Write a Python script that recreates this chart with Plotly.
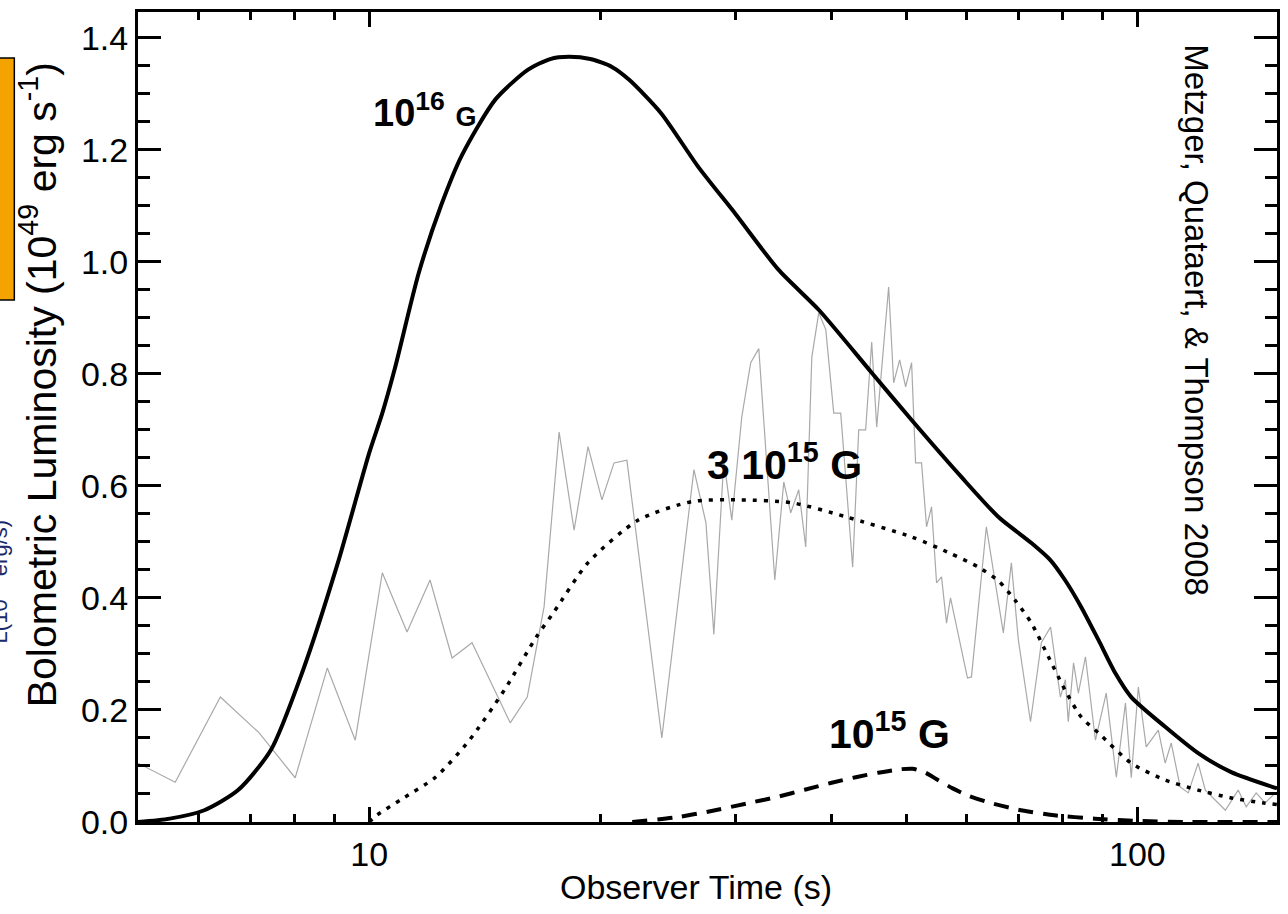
import numpy as np
import plotly.graph_objects as go

# Model light curves: bolometric luminosity (1e49 erg/s) vs observer time (s)
t_b16 = [5.0, 5.5, 6.1, 6.75, 7.45, 8.2, 9.1, 10.0, 10.4, 10.8, 11.6, 12.4, 13.2, 14.6, 16.1, 17.2,
         18.2, 19.4, 20.7, 21.8, 24.0, 26.8, 30.0, 34.1, 38.5, 45.1, 50.8, 59.0, 65.9, 72.8, 77.0,
         80.5, 84.5, 89.0, 93.6, 98.2, 108.7, 120.0, 132.5, 152.0]
L_b16 = [0.0, 0.006, 0.021, 0.057, 0.129, 0.271, 0.462, 0.659, 0.73, 0.81, 0.98, 1.10, 1.19, 1.29,
         1.343, 1.362, 1.366, 1.362, 1.348, 1.325, 1.265, 1.17, 1.085, 0.986, 0.914, 0.802, 0.718,
         0.616, 0.545, 0.498, 0.468, 0.432, 0.384, 0.325, 0.266, 0.223, 0.170, 0.123, 0.089, 0.060]

t_b3e15 = [10.0, 10.24, 11.0, 12.2, 13.5, 15.0, 16.5, 17.4, 19.3, 22.4, 26.3, 30.3, 35.5, 41.7, 50.8,
           57.0, 62.1, 66.0, 69.3, 72.8, 76.6, 80.5, 84.5, 89.0, 98.2, 108.7, 120.0, 132.5, 146.0, 152.0]
L_b3e15 = [0.0, 0.0125, 0.04, 0.080, 0.146, 0.236, 0.330, 0.375, 0.464, 0.539, 0.572, 0.575, 0.570,
           0.545, 0.509, 0.48, 0.455, 0.43, 0.396, 0.355, 0.295, 0.236, 0.1875, 0.159, 0.105, 0.075,
           0.057, 0.043, 0.034, 0.031]

t_b15 = [22.0, 25.0, 28.0, 31.0, 34.0, 37.0, 40.0, 43.0, 46.0, 49.0, 51.0, 53.0, 55.0, 57.5, 60.0,
         64.0, 70.0, 78.0, 88.0, 100.0, 115.0, 152.0]
L_b15 = [0.0, 0.008, 0.02, 0.033, 0.045, 0.058, 0.07, 0.08, 0.088, 0.094, 0.095, 0.088, 0.075, 0.06,
         0.048, 0.035, 0.022, 0.012, 0.006, 0.002, 0.0, 0.0]

# Observed burst light curve (gray)
t_obs = [5.0, 5.59, 6.40, 7.19, 8.01, 8.82, 9.59, 10.40, 11.20, 12.00, 12.82, 13.61, 15.26, 16.06,
         16.89, 17.67, 18.48, 19.27, 20.09, 20.83, 21.65, 24.04, 26.47, 27.44, 28.10, 28.95, 29.65,
         30.55, 31.38, 32.15, 33.73, 34.65, 35.38, 36.24, 37.01, 37.69, 38.48, 39.30, 40.25, 41.10,
         42.60, 43.38, 44.29, 45.10, 45.78, 47.45, 48.17, 49.04, 49.93, 50.83, 51.44, 52.37, 53.16,
         53.96, 54.78, 55.60, 56.44, 57.12, 60.10, 60.82, 63.60, 66.92, 68.55, 70.0, 72.6, 75.0,
         77.1, 79.4, 80.6, 81.3, 82.6, 83.8, 85.6, 88.2, 91.1, 93.9, 96.5, 98.2, 100.3, 102.7, 106.5,
         108.7, 110.7, 113.7, 116.5, 120.0, 122.6, 126.3, 130.2, 135.3, 138.6, 142.8, 146.7, 151.2]
L_obs = [0.105, 0.071, 0.223, 0.159, 0.079, 0.275, 0.146, 0.445, 0.339, 0.432, 0.293, 0.320, 0.177,
         0.223, 0.384, 0.696, 0.521, 0.670, 0.575, 0.641, 0.646, 0.150, 0.629, 0.534, 0.335, 0.646,
         0.539, 0.723, 0.820, 0.845, 0.432, 0.607, 0.552, 0.593, 0.491, 0.830, 0.909, 0.879, 0.730,
         0.730, 0.455, 0.700, 0.700, 0.857, 0.705, 0.955, 0.784, 0.825, 0.777, 0.820, 0.641, 0.641,
         0.527, 0.5625, 0.427, 0.4375, 0.355, 0.400, 0.257, 0.259, 0.527, 0.3375, 0.4625, 0.325,
         0.179, 0.320, 0.348, 0.223, 0.254, 0.179, 0.284, 0.230, 0.295, 0.146, 0.230, 0.080, 0.2125,
         0.079, 0.241, 0.134, 0.164, 0.105, 0.141, 0.0625, 0.052, 0.105, 0.057, 0.039, 0.021, 0.057,
         0.027, 0.052, 0.034, 0.052]

x_major = [10, 100]
x_minor = [6, 7, 8, 9, 20, 30, 40, 50, 60, 70, 80, 90]

FONT = "Liberation Sans, Arial, Helvetica, sans-serif"

fig = go.Figure()
fig.add_trace(go.Scatter(x=t_obs, y=L_obs, mode="lines",
                         line=dict(color="#a9a9a9", width=1.2), hoverinfo="skip"))
fig.add_trace(go.Scatter(x=t_b16, y=L_b16, mode="lines",
                         line=dict(color="black", width=4, shape="spline", smoothing=0.7),
                         hoverinfo="skip"))
fig.add_trace(go.Scatter(x=t_b3e15, y=L_b3e15, mode="lines",
                         line=dict(color="black", width=3.5, dash="4px,7px", shape="spline",
                                   smoothing=0.7), hoverinfo="skip"))
fig.add_trace(go.Scatter(x=t_b15, y=L_b15, mode="lines",
                         line=dict(color="black", width=4, dash="15px,10px", shape="spline",
                                   smoothing=0.6), hoverinfo="skip"))

axis_common = dict(showline=True, linecolor="black", linewidth=3, mirror="ticks",
                   ticks="inside", tickcolor="black", tickwidth=3, showgrid=False,
                   zeroline=False, tickfont=dict(family=FONT, size=34, color="black"))

fig.update_xaxes(type="log", range=[np.log10(5.0), np.log10(152.0)],
                 tickmode="array", tickvals=x_major, ticktext=[str(v) for v in x_major],
                 ticklen=15,
                 minor=dict(tickmode="array", tickvals=x_minor, ticks="inside", ticklen=8,
                            tickwidth=3, tickcolor="black"),
                 **axis_common)
fig.update_yaxes(range=[0, 1.446], tick0=0, dtick=0.2, tickformat=".1f", ticklen=23,
                 minor=dict(dtick=0.05, ticks="inside", ticklen=12, tickwidth=3, tickcolor="black"),
                 **axis_common)

annotations = [
    dict(x=np.log10(11.8), y=1.271, xref="x", yref="y", showarrow=False,
         text="<b>10<sup>16</sup> <span style='font-size:27px'>G</span></b>",
         font=dict(family=FONT, size=38, color="black")),
    dict(x=1.540, y=0.643, xref="x", yref="y", showarrow=False,
         text="<b>3 10<sup>15</sup> G</b>",
         font=dict(family=FONT, size=41, color="black")),
    dict(x=1.6775, y=0.1625, xref="x", yref="y", showarrow=False,
         text="<b>10<sup>15</sup> G</b>",
         font=dict(family=FONT, size=41, color="black")),
    dict(x=(1219 - 138) / 1142, y=(822 - 320) / 810, xref="paper", yref="paper",
         showarrow=False, textangle=90,
         text="Metzger, Quataert, & Thompson 2008",
         font=dict(family=FONT, size=33, color="black")),
    # axis titles
    dict(x=(697 - 138) / 1142, y=(822 - 887) / 810, xref="paper", yref="paper",
         xanchor="center", yanchor="middle",
         showarrow=False, text="Observer Time (s)",
         font=dict(family=FONT, size=34, color="black")),
    dict(x=(10 - 138) / 1142, y=(822 - 385) / 810, xref="paper", yref="paper",
         showarrow=False, textangle=-90,
         text="Bolometric Luminosity (10<sup>49</sup> erg s<sup>-1</sup>)",
         font=dict(family=FONT, size=41, color="black")),
    dict(x=(-19 - 138) / 1142, y=(822 - 645) / 810, xref="paper", yref="paper",
         showarrow=False, textangle=-90,
         text="L(10<sup>49</sup> erg/s)",
         font=dict(family=FONT, size=22, color="#1a2a6c")),
]

shapes = [
    dict(type="rect", xref="paper", yref="paper",
         x0=(-10 - 138) / 1142, x1=(14 - 138) / 1142,
         y0=(822 - 300) / 810, y1=(822 - 58) / 810,
         fillcolor="#f5a300", line=dict(color="black", width=1.5), layer="above"),
]

fig.update_layout(width=1288, height=914, margin=dict(l=138, r=8, t=12, b=92),
                  paper_bgcolor="white", plot_bgcolor="white", showlegend=False,
                  annotations=annotations, shapes=shapes)

fig.write_html("out.html")
